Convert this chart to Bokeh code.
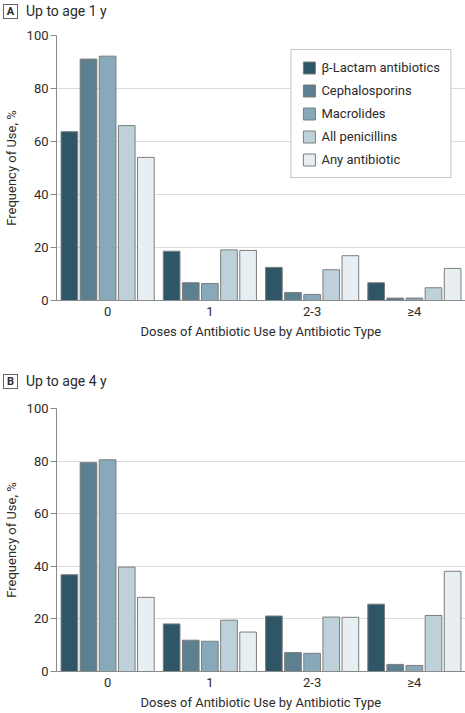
from bokeh.plotting import figure
from bokeh.models import (ColumnDataSource, FactorRange, Legend, LegendItem,
                          Range1d, FixedTicker, Div)
from bokeh.transform import dodge
from bokeh.layouts import column
from bokeh.embed import file_html
from bokeh.resources import INLINE

# ---------------- data ----------------
doses = ["0", "1", "2-3", "≥4"]
series_names = ["β-Lactam antibiotics", "Cephalosporins", "Macrolides",
                "All penicillins", "Any antibiotic"]

age1_beta_lactam = [63.7, 18.6, 12.5, 6.7]
age1_cephalosporins = [91.1, 6.7, 3.0, 0.9]
age1_macrolides = [92.2, 6.4, 2.3, 0.9]
age1_penicillins = [66.0, 19.1, 11.6, 4.8]
age1_any = [54.0, 18.9, 16.9, 12.1]

age4_beta_lactam = [36.8, 18.1, 21.1, 25.6]
age4_cephalosporins = [79.4, 11.9, 7.2, 2.7]
age4_macrolides = [80.5, 11.5, 6.9, 2.3]
age4_penicillins = [39.7, 19.5, 20.7, 21.3]
age4_any = [28.2, 15.0, 20.6, 38.1]

y_ticks = [0, 20, 40, 60, 80, 100]

# ---------------- style ----------------
FONT = "Roboto"
COLORS = ["#2f5666", "#5c808f", "#87a9b9", "#bed1da", "#e7eff3"]
OUTLINE = "#7d7d7d"
OFFSETS = [-0.374, -0.187, 0.0, 0.187, 0.374]
BAR_W = 0.163
TEXT = "#2b2b2b"
W = 465


def title_div(letter, title, height, pad_top):
    html = (
        '<div style="font-family:Roboto;font-size:14px;color:%s;line-height:16px;'
        'padding-top:%dpx;white-space:nowrap;">'
        '<span style="display:inline-block;box-sizing:border-box;width:15px;height:15px;'
        'border:1px solid #666;font-weight:bold;font-size:11px;line-height:13px;'
        'text-align:center;margin-left:3px;margin-right:8px;vertical-align:middle;">%s</span>'
        '<span style="vertical-align:middle;">%s</span></div>'
    ) % (TEXT, pad_top, letter, title)
    return Div(text=html, width=W, height=height, margin=(0, 0, 0, 0))


def make_panel(vals, height, top, frame_h, legend):
    src = ColumnDataSource(dict(dose=doses, s0=vals[0], s1=vals[1], s2=vals[2],
                                s3=vals[3], s4=vals[4]))
    p = figure(x_range=FactorRange(*doses), y_range=Range1d(0, 100),
               width=W, height=height, output_backend="svg",
               toolbar_location=None, min_border_left=48, min_border_right=0,
               min_border_top=top, min_border_bottom=height - top - frame_h,
               margin=(0, 0, 0, 0))
    p.outline_line_color = None
    p.background_fill_color = "white"

    rs = []
    for i in range(5):
        r = p.vbar(x=dodge("dose", OFFSETS[i], range=p.x_range), top="s%d" % i,
                   width=BAR_W, source=src, fill_color=COLORS[i],
                   line_color=OUTLINE, line_width=1)
        rs.append(r)

    p.xaxis.axis_label = "Doses of Antibiotic Use by Antibiotic Type"
    p.yaxis.axis_label = "Frequency of Use, %"
    for ax in (p.xaxis[0], p.yaxis[0]):
        ax.axis_line_color = "#8a8a8a"
        ax.major_tick_line_color = "#8a8a8a"
        ax.minor_tick_line_color = None
        ax.major_label_text_font = FONT
        ax.major_label_text_font_size = "13px"
        ax.major_label_text_color = TEXT
        ax.axis_label_text_font = FONT
        ax.axis_label_text_font_size = "13px"
        ax.axis_label_text_font_style = "normal"
        ax.axis_label_text_color = TEXT
    p.xaxis.major_tick_line_color = None
    p.xaxis.major_tick_out = 0
    p.xaxis.major_tick_in = 0
    p.xaxis.major_label_standoff = 3
    p.xaxis.axis_label_standoff = 2
    p.yaxis.ticker = FixedTicker(ticks=y_ticks)
    p.yaxis.major_tick_out = 6
    p.yaxis.major_tick_in = 0
    p.yaxis.major_label_standoff = 2
    p.yaxis.axis_label_standoff = 5
    p.xgrid.grid_line_color = None
    p.ygrid.grid_line_color = "#dcdcdc"
    p.ygrid.grid_line_width = 1

    if legend:
        leg = Legend(items=[LegendItem(label=series_names[i], renderers=[rs[i]])
                            for i in range(5)],
                     location="top_right", margin=14, padding=10, spacing=8,
                     glyph_width=15, glyph_height=15, label_height=15,
                     label_standoff=5, label_text_font=FONT,
                     label_text_font_size="13px", label_text_color=TEXT,
                     border_line_color="#8a8a8a", border_line_width=1,
                     background_fill_color="white", background_fill_alpha=1.0)
        p.add_layout(leg)
    return p


div_a = title_div("A", "Up to age 1 y", height=20, pad_top=2)
pa = make_panel([age1_beta_lactam, age1_cephalosporins, age1_macrolides,
                 age1_penicillins, age1_any],
                height=322, top=15, frame_h=265, legend=True)
div_b = title_div("B", "Up to age 4 y", height=50, pad_top=30)
pb = make_panel([age4_beta_lactam, age4_cephalosporins, age4_macrolides,
                 age4_penicillins, age4_any],
                height=320, top=16, frame_h=264, legend=False)

layout = column(div_a, pa, div_b, pb, spacing=0)
open("out.html", "w").write(file_html(layout, INLINE))
